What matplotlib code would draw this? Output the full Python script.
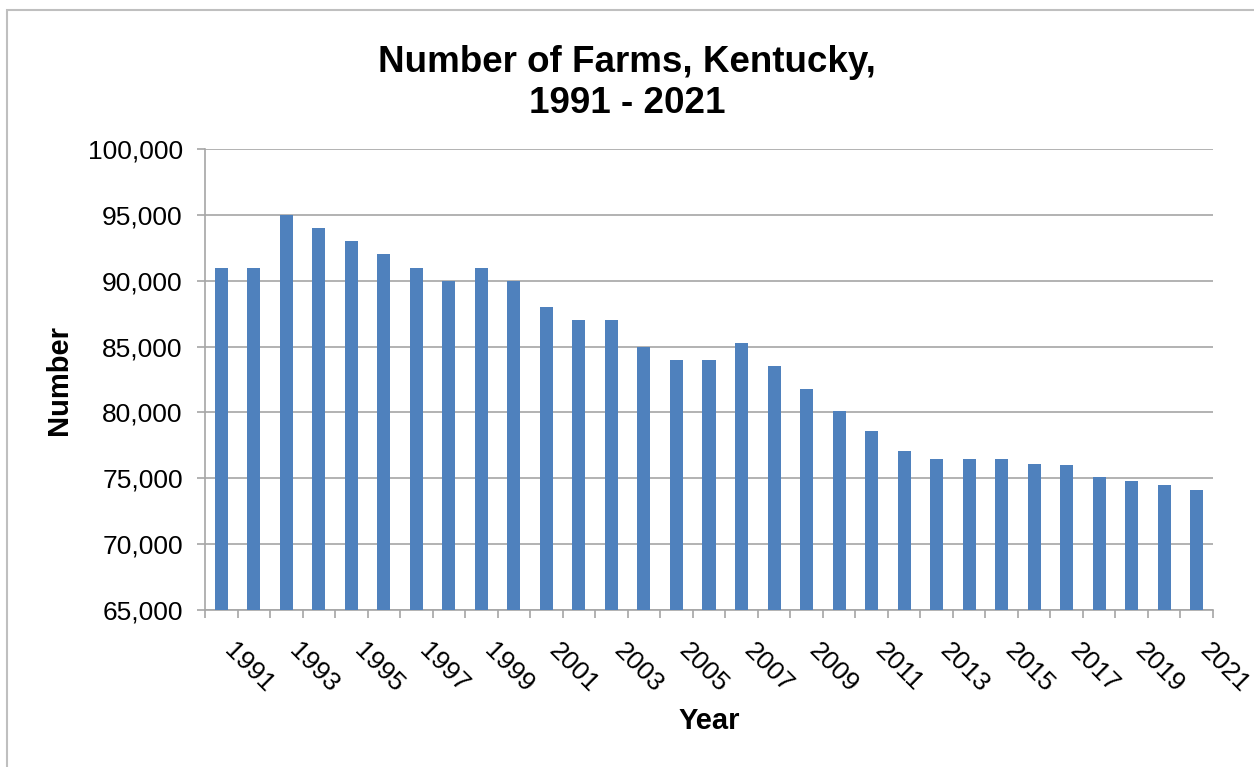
import numpy as np
import matplotlib.pyplot as plt
from matplotlib.patches import Rectangle
from matplotlib.ticker import FuncFormatter
from matplotlib.transforms import ScaledTranslation

# number of farms in Kentucky
years = list(range(1991, 2022))
farms = [91000, 91000, 95000, 94000, 93000, 92000, 91000, 90000, 91000, 90000,
         88000, 87000, 87000, 85000, 84000, 84000, 85300, 83500, 81800, 80100,
         78600, 77100, 76500, 76500, 76500, 76100, 76000, 75100, 74800, 74500,
         74100]
label_years = years[::2]
y_ticks = [65000, 70000, 75000, 80000, 85000, 90000, 95000, 100000]

plt.rcParams["font.family"] = ["Liberation Sans", "DejaVu Sans"]

W, H = 1254, 767
fig = plt.figure(figsize=(W / 100, H / 100), dpi=100)

# chart area border (cropped on right and bottom in the original)
fig.add_artist(Rectangle((7 / W, -0.2), 1.2, 1.2 - 10 / H, transform=fig.transFigure,
                         fill=False, edgecolor="#BFBFBF", linewidth=1.5))

ax = fig.add_axes([205 / W, 1 - 610 / H, (1213 - 205) / W, (610 - 149) / H])

x = np.arange(len(years))
ax.bar(x, farms, width=0.4, color="#4F81BD", zorder=3)

ax.set_xlim(-0.5, len(years) - 0.5)
ax.set_ylim(65000, 100000)
ax.set_yticks(y_ticks)
ax.yaxis.set_major_formatter(FuncFormatter(lambda v, p: f"{int(v):,}"))
ax.grid(axis="y", color="#A6A6A6", linewidth=1.2, zorder=0)

# labels on odd years, tick marks between categories
ax.set_xticks([years.index(y) for y in label_years])
ax.set_xticklabels([str(y) for y in label_years], rotation=-45,
                   ha="left", va="top", rotation_mode="anchor")
ax.set_xticks(np.arange(-0.5, len(years)), minor=True)
ax.tick_params(axis="x", which="major", length=0, pad=21, labelsize=19)
ax.tick_params(axis="x", which="minor", length=6, width=1.2, color="#A6A6A6",
               direction="out")
ax.tick_params(axis="y", length=6, width=1.2, color="#A6A6A6", pad=10, labelsize=19)

shift = ScaledTranslation(15 / 100, 1 / 100, fig.dpi_scale_trans)
for lbl in ax.get_xticklabels():
    lbl.set_transform(lbl.get_transform() + shift)

for s in ["top", "right"]:
    ax.spines[s].set_visible(False)
for s in ["left", "bottom"]:
    ax.spines[s].set_color("#A6A6A6")
    ax.spines[s].set_linewidth(1.2)

fig.text(0.5, 1 - 83 / H, "Number of Farms, Kentucky,\n1991 - 2021", ha="center",
         va="center", fontsize=26.5, fontweight="bold", linespacing=1.2)
fig.text(59 / W, 1 - 380 / H, "Number", rotation=90, ha="center", va="center",
         fontsize=21, fontweight="bold")
fig.text(709 / W, 1 - 721 / H, "Year", ha="center", va="center",
         fontsize=21, fontweight="bold")

fig.savefig("out.png", dpi=100)
